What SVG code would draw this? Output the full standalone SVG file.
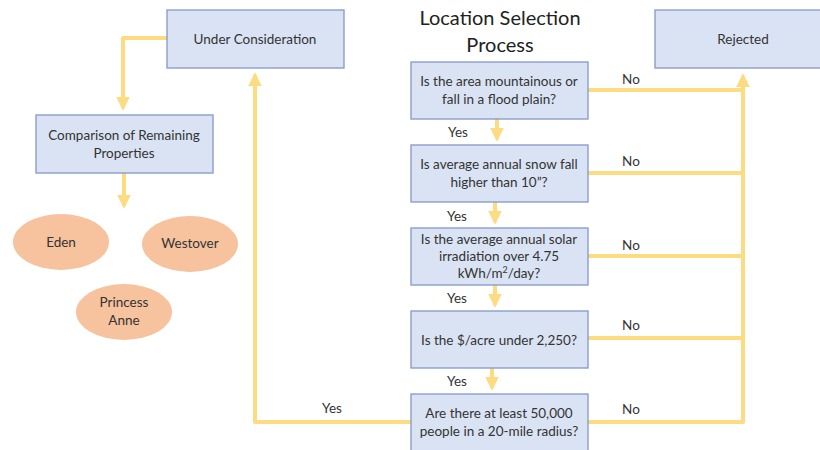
<svg xmlns="http://www.w3.org/2000/svg" width="820" height="450" viewBox="0 0 820 450">
<style>
.box{fill:#dae3f3;stroke:#8497c7;stroke-width:1.3}
.ell{fill:#f7c29e}
.t{font-family:Lato,"Open Sans","Liberation Sans",sans-serif;font-size:13.5px;fill:#333;text-anchor:middle}
.lbl{font-family:Lato,"Open Sans","Liberation Sans",sans-serif;font-size:13.5px;fill:#333;text-anchor:middle}
.title{font-family:Lato,"Open Sans","Liberation Sans",sans-serif;font-size:20px;fill:#222;text-anchor:middle}
.c{fill:none;stroke:#fddb80;stroke-width:4;stroke-linejoin:round}
</style>
<defs>
<marker id="ah" viewBox="0 0 10 10" refX="8" refY="5" markerWidth="3.4" markerHeight="3.4" orient="auto" markerUnits="strokeWidth">
<path d="M0,0 L10,5 L0,10 z" fill="#fddb80"/>
</marker>
</defs>
<rect width="820" height="450" fill="#ffffff"/>
<g id="title">
<text class="title" x="500" y="25">Location Selection</text>
<text class="title" x="500" y="52">Process</text>
</g>
<g id="connectors">
<path class="c" d="M167,38 H123 V108" marker-end="url(#ah)"/>
<path class="c" d="M124,173 V206" marker-end="url(#ah)"/>
<path class="c" d="M411,422 H255 V75" marker-end="url(#ah)"/>
<path class="c" d="M497,119 V139" marker-end="url(#ah)"/>
<path class="c" d="M495,202 V222" marker-end="url(#ah)"/>
<path class="c" d="M495,285 V305" marker-end="url(#ah)"/>
<path class="c" d="M492,368 V388" marker-end="url(#ah)"/>
<path class="c" d="M588,90 H742"/>
<path class="c" d="M588,173 H742"/>
<path class="c" d="M588,256 H742"/>
<path class="c" d="M588,338 H742"/>
<path class="c" d="M588,422 H743 V76" marker-end="url(#ah)"/>
<text class="lbl" x="458" y="137">Yes</text>
<text class="lbl" x="457" y="221">Yes</text>
<text class="lbl" x="457" y="303">Yes</text>
<text class="lbl" x="457" y="386">Yes</text>
<text class="lbl" x="332" y="413">Yes</text>
<text class="lbl" x="631" y="84">No</text>
<text class="lbl" x="631" y="166">No</text>
<text class="lbl" x="631" y="250">No</text>
<text class="lbl" x="631" y="330">No</text>
<text class="lbl" x="631" y="414">No</text>
</g>
<g id="under-consideration">
<rect class="box" x="167" y="10" width="177" height="58"/>
<text class="t" x="255" y="44">Under Consideration</text>
</g>
<g id="rejected">
<rect class="box" x="655" y="10" width="177" height="58"/>
<text class="t" x="743" y="44">Rejected</text>
</g>
<g id="comparison">
<rect class="box" x="36" y="115" width="177" height="58"/>
<text class="t" x="124" y="140">Comparison of Remaining</text>
<text class="t" x="124" y="158">Properties</text>
</g>
<g id="eden">
<ellipse class="ell" cx="61" cy="242" rx="48" ry="28"/>
<text class="t" x="61" y="247">Eden</text>
</g>
<g id="westover">
<ellipse class="ell" cx="190" cy="244" rx="48" ry="28"/>
<text class="t" x="190" y="248">Westover</text>
</g>
<g id="princess-anne">
<ellipse class="ell" cx="124" cy="312" rx="48" ry="28"/>
<text class="t" x="124" y="307">Princess</text>
<text class="t" x="124" y="325">Anne</text>
</g>
<g id="q1">
<rect class="box" x="411" y="62" width="177" height="57"/>
<text class="t" x="499" y="86">Is the area mountainous or</text>
<text class="t" x="499" y="104">fall in a flood plain?</text>
</g>
<g id="q2">
<rect class="box" x="411" y="145" width="177" height="57"/>
<text class="t" x="499" y="169">Is average annual snow fall</text>
<text class="t" x="499" y="187">higher than 10”?</text>
</g>
<g id="q3">
<rect class="box" x="411" y="228" width="177" height="57"/>
<text class="t" x="499" y="244">Is the average annual solar</text>
<text class="t" x="499" y="261">irradiation over 4.75</text>
<text class="t" x="499" y="278">kWh/m<tspan font-size="9" dy="-5">2</tspan><tspan dy="5">/day?</tspan></text>
</g>
<g id="q4">
<rect class="box" x="411" y="311" width="177" height="57"/>
<text class="t" x="499" y="345">Is the $/acre under 2,250?</text>
</g>
<g id="q5">
<rect class="box" x="411" y="394" width="177" height="57"/>
<text class="t" x="499" y="418">Are there at least 50,000</text>
<text class="t" x="499" y="436">people in a 20-mile radius?</text>
</g>
</svg>
